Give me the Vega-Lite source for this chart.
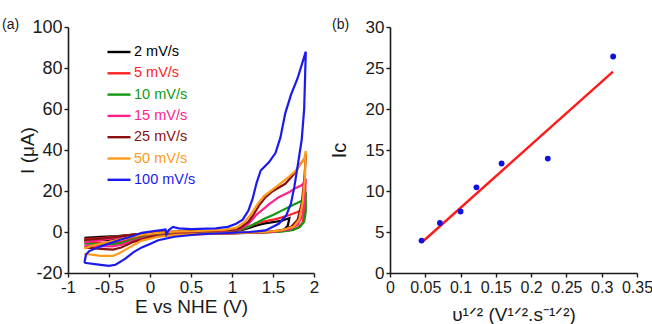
{
  "$schema": "https://vega.github.io/schema/vega-lite/v6.json",
  "background": "white",
  "padding": {"left": 1, "top": 18, "right": 0, "bottom": 0},
  "spacing": 10,
  "config": {
    "font": "Liberation Sans",
    "view": {"stroke": null},
    "axis": {
      "grid": false,
      "domainColor": "#1a1a1a",
      "domainWidth": 1.6,
      "tickColor": "#1a1a1a",
      "tickWidth": 1.4,
      "tickSize": 4,
      "labelFont": "Liberation Sans",
      "labelFontSize": 18,
      "labelColor": "#1a1a1a",
      "labelPadding": 2,
      "labelOverlap": false,
      "labelFlush": false,
      "titleFont": "Liberation Sans",
      "titleFontSize": 19,
      "titleFontWeight": "normal",
      "titleColor": "#1a1a1a"
    },
    "title": {"font": "Liberation Sans", "fontSize": 14, "fontWeight": "normal", "color": "#1a1a1a"}
  },
  "datasets": {
    "cv": [
      {"rate": "2 mV/s", "i": 0, "E": -0.8, "I": -2.8}, {"rate": "2 mV/s", "i": 1, "E": -0.6, "I": -2.4}, {"rate": "2 mV/s", "i": 2, "E": -0.4, "I": -2.0}, {"rate": "2 mV/s", "i": 3, "E": -0.2, "I": -1.3}, {"rate": "2 mV/s", "i": 4, "E": 0.0, "I": -0.6}, {"rate": "2 mV/s", "i": 5, "E": 0.2, "I": -0.2}, {"rate": "2 mV/s", "i": 6, "E": 0.5, "I": 0.0}, {"rate": "2 mV/s", "i": 7, "E": 0.8, "I": 0.2}, {"rate": "2 mV/s", "i": 8, "E": 1.0, "I": 0.4}, {"rate": "2 mV/s", "i": 9, "E": 1.1, "I": 0.8}, {"rate": "2 mV/s", "i": 10, "E": 1.2, "I": 1.8}, {"rate": "2 mV/s", "i": 11, "E": 1.3, "I": 3.2}, {"rate": "2 mV/s", "i": 12, "E": 1.4, "I": 4.2}, {"rate": "2 mV/s", "i": 13, "E": 1.5, "I": 4.8}, {"rate": "2 mV/s", "i": 14, "E": 1.6, "I": 5.4}, {"rate": "2 mV/s", "i": 15, "E": 1.7, "I": 6.8}, {"rate": "2 mV/s", "i": 16, "E": 1.68, "I": 3.0}, {"rate": "2 mV/s", "i": 17, "E": 1.63, "I": 1.0}, {"rate": "2 mV/s", "i": 18, "E": 1.55, "I": 0.3}, {"rate": "2 mV/s", "i": 19, "E": 1.3, "I": -0.3}, {"rate": "2 mV/s", "i": 20, "E": 1.0, "I": -0.6}, {"rate": "2 mV/s", "i": 21, "E": 0.6, "I": -0.9}, {"rate": "2 mV/s", "i": 22, "E": 0.3, "I": -1.1}, {"rate": "2 mV/s", "i": 23, "E": 0.0, "I": -1.6}, {"rate": "2 mV/s", "i": 24, "E": -0.2, "I": -2.4}, {"rate": "2 mV/s", "i": 25, "E": -0.4, "I": -3.4}, {"rate": "2 mV/s", "i": 26, "E": -0.5, "I": -3.8}, {"rate": "2 mV/s", "i": 27, "E": -0.65, "I": -3.9}, {"rate": "2 mV/s", "i": 28, "E": -0.8, "I": -4.0},

      {"rate": "5 mV/s", "i": 0, "E": -0.8, "I": -3.5}, {"rate": "5 mV/s", "i": 1, "E": -0.6, "I": -3.0}, {"rate": "5 mV/s", "i": 2, "E": -0.4, "I": -2.3}, {"rate": "5 mV/s", "i": 3, "E": -0.2, "I": -1.3}, {"rate": "5 mV/s", "i": 4, "E": 0.0, "I": -0.5}, {"rate": "5 mV/s", "i": 5, "E": 0.2, "I": -0.1}, {"rate": "5 mV/s", "i": 6, "E": 0.5, "I": 0.1}, {"rate": "5 mV/s", "i": 7, "E": 0.8, "I": 0.3}, {"rate": "5 mV/s", "i": 8, "E": 1.0, "I": 0.6}, {"rate": "5 mV/s", "i": 9, "E": 1.1, "I": 1.0}, {"rate": "5 mV/s", "i": 10, "E": 1.2, "I": 2.4}, {"rate": "5 mV/s", "i": 11, "E": 1.3, "I": 4.2}, {"rate": "5 mV/s", "i": 12, "E": 1.4, "I": 5.2}, {"rate": "5 mV/s", "i": 13, "E": 1.5, "I": 6.0}, {"rate": "5 mV/s", "i": 14, "E": 1.6, "I": 7.0}, {"rate": "5 mV/s", "i": 15, "E": 1.7, "I": 8.3}, {"rate": "5 mV/s", "i": 16, "E": 1.8, "I": 9.8}, {"rate": "5 mV/s", "i": 17, "E": 1.86, "I": 11.0}, {"rate": "5 mV/s", "i": 18, "E": 1.89, "I": 15.0}, {"rate": "5 mV/s", "i": 19, "E": 1.9, "I": 19.0}, {"rate": "5 mV/s", "i": 20, "E": 1.89, "I": 10.0}, {"rate": "5 mV/s", "i": 21, "E": 1.86, "I": 4.5}, {"rate": "5 mV/s", "i": 22, "E": 1.8, "I": 2.0}, {"rate": "5 mV/s", "i": 23, "E": 1.7, "I": 0.8}, {"rate": "5 mV/s", "i": 24, "E": 1.5, "I": 0.0}, {"rate": "5 mV/s", "i": 25, "E": 1.2, "I": -0.4}, {"rate": "5 mV/s", "i": 26, "E": 1.0, "I": -0.6}, {"rate": "5 mV/s", "i": 27, "E": 0.6, "I": -0.9}, {"rate": "5 mV/s", "i": 28, "E": 0.3, "I": -1.2}, {"rate": "5 mV/s", "i": 29, "E": 0.0, "I": -1.9}, {"rate": "5 mV/s", "i": 30, "E": -0.2, "I": -3.2}, {"rate": "5 mV/s", "i": 31, "E": -0.35, "I": -4.8}, {"rate": "5 mV/s", "i": 32, "E": -0.45, "I": -5.3}, {"rate": "5 mV/s", "i": 33, "E": -0.6, "I": -5.2}, {"rate": "5 mV/s", "i": 34, "E": -0.8, "I": -5.0},

      {"rate": "10 mV/s", "i": 0, "E": -0.8, "I": -4.5}, {"rate": "10 mV/s", "i": 1, "E": -0.6, "I": -3.6}, {"rate": "10 mV/s", "i": 2, "E": -0.4, "I": -2.6}, {"rate": "10 mV/s", "i": 3, "E": -0.2, "I": -1.4}, {"rate": "10 mV/s", "i": 4, "E": 0.0, "I": -0.5}, {"rate": "10 mV/s", "i": 5, "E": 0.2, "I": 0.0}, {"rate": "10 mV/s", "i": 6, "E": 0.5, "I": 0.2}, {"rate": "10 mV/s", "i": 7, "E": 0.8, "I": 0.4}, {"rate": "10 mV/s", "i": 8, "E": 1.0, "I": 0.7}, {"rate": "10 mV/s", "i": 9, "E": 1.1, "I": 1.2}, {"rate": "10 mV/s", "i": 10, "E": 1.2, "I": 2.5}, {"rate": "10 mV/s", "i": 11, "E": 1.3, "I": 4.5}, {"rate": "10 mV/s", "i": 12, "E": 1.4, "I": 6.6}, {"rate": "10 mV/s", "i": 13, "E": 1.5, "I": 8.3}, {"rate": "10 mV/s", "i": 14, "E": 1.6, "I": 10.3}, {"rate": "10 mV/s", "i": 15, "E": 1.7, "I": 12.3}, {"rate": "10 mV/s", "i": 16, "E": 1.8, "I": 14.3}, {"rate": "10 mV/s", "i": 17, "E": 1.86, "I": 15.3}, {"rate": "10 mV/s", "i": 18, "E": 1.9, "I": 18.0}, {"rate": "10 mV/s", "i": 19, "E": 1.9, "I": 10.0}, {"rate": "10 mV/s", "i": 20, "E": 1.88, "I": 5.0}, {"rate": "10 mV/s", "i": 21, "E": 1.83, "I": 2.5}, {"rate": "10 mV/s", "i": 22, "E": 1.75, "I": 1.0}, {"rate": "10 mV/s", "i": 23, "E": 1.6, "I": 0.2}, {"rate": "10 mV/s", "i": 24, "E": 1.4, "I": -0.2}, {"rate": "10 mV/s", "i": 25, "E": 1.0, "I": -0.6}, {"rate": "10 mV/s", "i": 26, "E": 0.6, "I": -0.9}, {"rate": "10 mV/s", "i": 27, "E": 0.3, "I": -1.2}, {"rate": "10 mV/s", "i": 28, "E": 0.0, "I": -2.0}, {"rate": "10 mV/s", "i": 29, "E": -0.2, "I": -3.6}, {"rate": "10 mV/s", "i": 30, "E": -0.35, "I": -5.4}, {"rate": "10 mV/s", "i": 31, "E": -0.45, "I": -6.0}, {"rate": "10 mV/s", "i": 32, "E": -0.6, "I": -5.9}, {"rate": "10 mV/s", "i": 33, "E": -0.8, "I": -5.6},

      {"rate": "15 mV/s", "i": 0, "E": -0.8, "I": -5.0}, {"rate": "15 mV/s", "i": 1, "E": -0.6, "I": -4.0}, {"rate": "15 mV/s", "i": 2, "E": -0.4, "I": -2.8}, {"rate": "15 mV/s", "i": 3, "E": -0.2, "I": -1.5}, {"rate": "15 mV/s", "i": 4, "E": 0.0, "I": -0.5}, {"rate": "15 mV/s", "i": 5, "E": 0.2, "I": 0.0}, {"rate": "15 mV/s", "i": 6, "E": 0.5, "I": 0.2}, {"rate": "15 mV/s", "i": 7, "E": 0.8, "I": 0.5}, {"rate": "15 mV/s", "i": 8, "E": 1.0, "I": 0.8}, {"rate": "15 mV/s", "i": 9, "E": 1.1, "I": 1.5}, {"rate": "15 mV/s", "i": 10, "E": 1.2, "I": 4.0}, {"rate": "15 mV/s", "i": 11, "E": 1.3, "I": 8.5}, {"rate": "15 mV/s", "i": 12, "E": 1.37, "I": 10.8}, {"rate": "15 mV/s", "i": 13, "E": 1.45, "I": 13.5}, {"rate": "15 mV/s", "i": 14, "E": 1.57, "I": 17.0}, {"rate": "15 mV/s", "i": 15, "E": 1.7, "I": 19.5}, {"rate": "15 mV/s", "i": 16, "E": 1.78, "I": 21.5}, {"rate": "15 mV/s", "i": 17, "E": 1.86, "I": 23.0}, {"rate": "15 mV/s", "i": 18, "E": 1.9, "I": 26.0}, {"rate": "15 mV/s", "i": 19, "E": 1.89, "I": 16.0}, {"rate": "15 mV/s", "i": 20, "E": 1.86, "I": 8.0}, {"rate": "15 mV/s", "i": 21, "E": 1.8, "I": 3.5}, {"rate": "15 mV/s", "i": 22, "E": 1.7, "I": 1.2}, {"rate": "15 mV/s", "i": 23, "E": 1.5, "I": 0.1}, {"rate": "15 mV/s", "i": 24, "E": 1.2, "I": -0.4}, {"rate": "15 mV/s", "i": 25, "E": 1.0, "I": -0.6}, {"rate": "15 mV/s", "i": 26, "E": 0.6, "I": -1.0}, {"rate": "15 mV/s", "i": 27, "E": 0.3, "I": -1.3}, {"rate": "15 mV/s", "i": 28, "E": 0.0, "I": -2.2}, {"rate": "15 mV/s", "i": 29, "E": -0.2, "I": -4.2}, {"rate": "15 mV/s", "i": 30, "E": -0.35, "I": -6.2}, {"rate": "15 mV/s", "i": 31, "E": -0.45, "I": -7.0}, {"rate": "15 mV/s", "i": 32, "E": -0.6, "I": -6.9}, {"rate": "15 mV/s", "i": 33, "E": -0.8, "I": -6.5},

      {"rate": "25 mV/s", "i": 0, "E": -0.8, "I": -3.8}, {"rate": "25 mV/s", "i": 1, "E": -0.6, "I": -3.2}, {"rate": "25 mV/s", "i": 2, "E": -0.4, "I": -2.4}, {"rate": "25 mV/s", "i": 3, "E": -0.2, "I": -1.3}, {"rate": "25 mV/s", "i": 4, "E": 0.0, "I": -0.4}, {"rate": "25 mV/s", "i": 5, "E": 0.2, "I": 0.1}, {"rate": "25 mV/s", "i": 6, "E": 0.5, "I": 0.3}, {"rate": "25 mV/s", "i": 7, "E": 0.8, "I": 0.6}, {"rate": "25 mV/s", "i": 8, "E": 1.0, "I": 1.0}, {"rate": "25 mV/s", "i": 9, "E": 1.1, "I": 2.0}, {"rate": "25 mV/s", "i": 10, "E": 1.2, "I": 5.0}, {"rate": "25 mV/s", "i": 11, "E": 1.27, "I": 9.0}, {"rate": "25 mV/s", "i": 12, "E": 1.33, "I": 13.0}, {"rate": "25 mV/s", "i": 13, "E": 1.41, "I": 17.0}, {"rate": "25 mV/s", "i": 14, "E": 1.5, "I": 20.0}, {"rate": "25 mV/s", "i": 15, "E": 1.65, "I": 23.5}, {"rate": "25 mV/s", "i": 16, "E": 1.75, "I": 28.0}, {"rate": "25 mV/s", "i": 17, "E": 1.83, "I": 33.0}, {"rate": "25 mV/s", "i": 18, "E": 1.9, "I": 36.5}, {"rate": "25 mV/s", "i": 19, "E": 1.88, "I": 25.0}, {"rate": "25 mV/s", "i": 20, "E": 1.85, "I": 14.0}, {"rate": "25 mV/s", "i": 21, "E": 1.8, "I": 6.0}, {"rate": "25 mV/s", "i": 22, "E": 1.72, "I": 2.5}, {"rate": "25 mV/s", "i": 23, "E": 1.6, "I": 0.8}, {"rate": "25 mV/s", "i": 24, "E": 1.4, "I": 0.0}, {"rate": "25 mV/s", "i": 25, "E": 1.0, "I": -0.6}, {"rate": "25 mV/s", "i": 26, "E": 0.6, "I": -1.0}, {"rate": "25 mV/s", "i": 27, "E": 0.3, "I": -1.4}, {"rate": "25 mV/s", "i": 28, "E": 0.0, "I": -2.4}, {"rate": "25 mV/s", "i": 29, "E": -0.2, "I": -4.8}, {"rate": "25 mV/s", "i": 30, "E": -0.35, "I": -7.6}, {"rate": "25 mV/s", "i": 31, "E": -0.45, "I": -8.6}, {"rate": "25 mV/s", "i": 32, "E": -0.6, "I": -8.2}, {"rate": "25 mV/s", "i": 33, "E": -0.8, "I": -7.5},

      {"rate": "50 mV/s", "i": 0, "E": -0.8, "I": -8.0}, {"rate": "50 mV/s", "i": 1, "E": -0.7, "I": -6.6}, {"rate": "50 mV/s", "i": 2, "E": -0.5, "I": -4.8}, {"rate": "50 mV/s", "i": 3, "E": -0.3, "I": -3.0}, {"rate": "50 mV/s", "i": 4, "E": -0.1, "I": -1.4}, {"rate": "50 mV/s", "i": 5, "E": 0.1, "I": -0.4}, {"rate": "50 mV/s", "i": 6, "E": 0.3, "I": 0.2}, {"rate": "50 mV/s", "i": 7, "E": 0.6, "I": 0.5}, {"rate": "50 mV/s", "i": 8, "E": 0.9, "I": 1.0}, {"rate": "50 mV/s", "i": 9, "E": 1.05, "I": 2.0}, {"rate": "50 mV/s", "i": 10, "E": 1.15, "I": 4.8}, {"rate": "50 mV/s", "i": 11, "E": 1.23, "I": 8.5}, {"rate": "50 mV/s", "i": 12, "E": 1.31, "I": 13.5}, {"rate": "50 mV/s", "i": 13, "E": 1.39, "I": 17.5}, {"rate": "50 mV/s", "i": 14, "E": 1.49, "I": 20.5}, {"rate": "50 mV/s", "i": 15, "E": 1.65, "I": 25.5}, {"rate": "50 mV/s", "i": 16, "E": 1.78, "I": 30.0}, {"rate": "50 mV/s", "i": 17, "E": 1.88, "I": 35.5}, {"rate": "50 mV/s", "i": 18, "E": 1.9, "I": 39.5}, {"rate": "50 mV/s", "i": 19, "E": 1.89, "I": 27.0}, {"rate": "50 mV/s", "i": 20, "E": 1.86, "I": 14.0}, {"rate": "50 mV/s", "i": 21, "E": 1.82, "I": 6.0}, {"rate": "50 mV/s", "i": 22, "E": 1.75, "I": 2.5}, {"rate": "50 mV/s", "i": 23, "E": 1.6, "I": 0.8}, {"rate": "50 mV/s", "i": 24, "E": 1.4, "I": 0.0}, {"rate": "50 mV/s", "i": 25, "E": 1.0, "I": -0.6}, {"rate": "50 mV/s", "i": 26, "E": 0.6, "I": -1.0}, {"rate": "50 mV/s", "i": 27, "E": 0.3, "I": -1.5}, {"rate": "50 mV/s", "i": 28, "E": 0.1, "I": -2.3}, {"rate": "50 mV/s", "i": 29, "E": -0.1, "I": -4.2}, {"rate": "50 mV/s", "i": 30, "E": -0.25, "I": -7.5}, {"rate": "50 mV/s", "i": 31, "E": -0.38, "I": -10.5}, {"rate": "50 mV/s", "i": 32, "E": -0.45, "I": -11.6}, {"rate": "50 mV/s", "i": 33, "E": -0.6, "I": -11.6}, {"rate": "50 mV/s", "i": 34, "E": -0.8, "I": -10.6},

      {"rate": "100 mV/s", "i": 0, "E": -0.8, "I": -15.0}, {"rate": "100 mV/s", "i": 1, "E": -0.78, "I": -11.0}, {"rate": "100 mV/s", "i": 2, "E": -0.74, "I": -9.3}, {"rate": "100 mV/s", "i": 3, "E": -0.6, "I": -7.0}, {"rate": "100 mV/s", "i": 4, "E": -0.4, "I": -4.3}, {"rate": "100 mV/s", "i": 5, "E": -0.2, "I": -1.8}, {"rate": "100 mV/s", "i": 6, "E": -0.1, "I": -0.4}, {"rate": "100 mV/s", "i": 7, "E": 0.05, "I": 0.5}, {"rate": "100 mV/s", "i": 8, "E": 0.19, "I": 1.2}, {"rate": "100 mV/s", "i": 9, "E": 0.2, "I": -1.2}, {"rate": "100 mV/s", "i": 10, "E": 0.23, "I": 1.0}, {"rate": "100 mV/s", "i": 11, "E": 0.28, "I": 2.5}, {"rate": "100 mV/s", "i": 12, "E": 0.35, "I": 1.8}, {"rate": "100 mV/s", "i": 13, "E": 0.5, "I": 1.4}, {"rate": "100 mV/s", "i": 14, "E": 0.8, "I": 1.8}, {"rate": "100 mV/s", "i": 15, "E": 0.95, "I": 2.5}, {"rate": "100 mV/s", "i": 16, "E": 1.05, "I": 4.0}, {"rate": "100 mV/s", "i": 17, "E": 1.13, "I": 6.0}, {"rate": "100 mV/s", "i": 18, "E": 1.2, "I": 10.5}, {"rate": "100 mV/s", "i": 19, "E": 1.25, "I": 16.0}, {"rate": "100 mV/s", "i": 20, "E": 1.3, "I": 24.0}, {"rate": "100 mV/s", "i": 21, "E": 1.35, "I": 30.0}, {"rate": "100 mV/s", "i": 22, "E": 1.45, "I": 34.0}, {"rate": "100 mV/s", "i": 23, "E": 1.53, "I": 38.5}, {"rate": "100 mV/s", "i": 24, "E": 1.59, "I": 46.0}, {"rate": "100 mV/s", "i": 25, "E": 1.65, "I": 58.0}, {"rate": "100 mV/s", "i": 26, "E": 1.72, "I": 67.0}, {"rate": "100 mV/s", "i": 27, "E": 1.8, "I": 75.0}, {"rate": "100 mV/s", "i": 28, "E": 1.9, "I": 88.0}, {"rate": "100 mV/s", "i": 29, "E": 1.88, "I": 60.0}, {"rate": "100 mV/s", "i": 30, "E": 1.85, "I": 45.0}, {"rate": "100 mV/s", "i": 31, "E": 1.8, "I": 32.0}, {"rate": "100 mV/s", "i": 32, "E": 1.76, "I": 22.0}, {"rate": "100 mV/s", "i": 33, "E": 1.72, "I": 14.0}, {"rate": "100 mV/s", "i": 34, "E": 1.66, "I": 8.0}, {"rate": "100 mV/s", "i": 35, "E": 1.57, "I": 4.0}, {"rate": "100 mV/s", "i": 36, "E": 1.41, "I": 0.8}, {"rate": "100 mV/s", "i": 37, "E": 1.21, "I": 0.0}, {"rate": "100 mV/s", "i": 38, "E": 0.9, "I": -0.6}, {"rate": "100 mV/s", "i": 39, "E": 0.6, "I": -1.1}, {"rate": "100 mV/s", "i": 40, "E": 0.3, "I": -2.3}, {"rate": "100 mV/s", "i": 41, "E": 0.1, "I": -4.0}, {"rate": "100 mV/s", "i": 42, "E": 0.0, "I": -5.8}, {"rate": "100 mV/s", "i": 43, "E": -0.1, "I": -7.5}, {"rate": "100 mV/s", "i": 44, "E": -0.2, "I": -9.8}, {"rate": "100 mV/s", "i": 45, "E": -0.3, "I": -13.0}, {"rate": "100 mV/s", "i": 46, "E": -0.42, "I": -16.0}, {"rate": "100 mV/s", "i": 47, "E": -0.5, "I": -16.5}, {"rate": "100 mV/s", "i": 48, "E": -0.65, "I": -15.8}, {"rate": "100 mV/s", "i": 49, "E": -0.8, "I": -15.0}
    ],
    "pts": [
      {"v": 0.0447, "Ic": 3.95, "kind": "point"},
      {"v": 0.0707, "Ic": 6.1, "kind": "point"},
      {"v": 0.1, "Ic": 7.5, "kind": "point"},
      {"v": 0.1225, "Ic": 10.45, "kind": "point"},
      {"v": 0.1581, "Ic": 13.35, "kind": "point"},
      {"v": 0.2236, "Ic": 13.95, "kind": "point"},
      {"v": 0.3162, "Ic": 26.4, "kind": "point"},
      {"v": 0.0473, "Ic": 3.9, "kind": "fit"},
      {"v": 0.316, "Ic": 24.55, "kind": "fit"}
    ]
  },
  "hconcat": [
    {
      "width": 246,
      "height": 246,
      "title": {"text": "(a)", "anchor": "start", "frame": "bounds", "dx": -17, "dy": 14, "offset": 0},
      "data": {"name": "cv"},
      "mark": {"type": "line", "strokeWidth": 2.2, "interpolate": "linear"},
      "encoding": {
        "x": {
          "field": "E", "type": "quantitative",
          "scale": {"domain": [-1, 2], "nice": false, "zero": false},
          "axis": {"title": "E vs NHE (V)", "values": [-1, -0.5, 0, 0.5, 1, 1.5, 2], "labelExpr": "'' + datum.value", "labelFontSize": 17, "titlePadding": 2}
        },
        "y": {
          "field": "I", "type": "quantitative",
          "scale": {"domain": [-20, 100], "nice": false, "zero": false},
          "axis": {"title": "I (μA)", "values": [-20, 0, 20, 40, 60, 80, 100], "labelExpr": "'' + datum.value", "titlePadding": -6}
        },
        "color": {
          "field": "rate", "type": "nominal",
          "sort": ["2 mV/s", "5 mV/s", "10 mV/s", "15 mV/s", "25 mV/s", "50 mV/s", "100 mV/s"],
          "scale": {
            "domain": ["2 mV/s", "5 mV/s", "10 mV/s", "15 mV/s", "25 mV/s", "50 mV/s", "100 mV/s"],
            "range": ["#000000", "#ff2222", "#119911", "#ff2288", "#8b1010", "#ff9a1a", "#1a1aee"]
          },
          "legend": {
            "title": null,
            "orient": "none",
            "legendX": 38,
            "legendY": 12,
            "padding": 0,
            "symbolType": "stroke",
            "symbolSize": 529,
            "symbolStrokeWidth": 2.4,
            "labelFontSize": 14.5,
            "labelFont": "Liberation Sans",
            "labelOffset": 2,
            "rowPadding": 1.3,
            "encode": {"labels": {"update": {"fill": {"scale": "color", "field": "value"}}}}
          }
        },
        "detail": {"field": "rate"},
        "order": {"field": "i", "type": "quantitative"}
      }
    },
    {
      "width": 247,
      "height": 246,
      "title": {"text": "(b)", "anchor": "start", "frame": "bounds", "dx": 3, "dy": 14, "offset": 0},
      "data": {"name": "pts"},
      "encoding": {
        "x": {
          "field": "v", "type": "quantitative",
          "scale": {"domain": [0, 0.35], "nice": false},
          "axis": {"title": "υ¹ᐟ² (V¹ᐟ².s⁻¹ᐟ²)", "values": [0, 0.05, 0.1, 0.15, 0.2, 0.25, 0.3, 0.35], "labelExpr": "'' + datum.value", "labelFontSize": 16, "titlePadding": 10}
        },
        "y": {
          "field": "Ic", "type": "quantitative",
          "scale": {"domain": [0, 30], "nice": false},
          "axis": {"title": "Ic", "values": [0, 5, 10, 15, 20, 25, 30], "labelFontSize": 17, "titleFontSize": 20, "titlePadding": 16}
        }
      },
      "layer": [
        {
          "transform": [{"filter": "datum.kind === 'fit'"}],
          "mark": {"type": "line", "color": "#ff1a1a", "strokeWidth": 2.4}
        },
        {
          "transform": [{"filter": "datum.kind === 'point'"}],
          "mark": {"type": "circle", "color": "#1010e0", "size": 34, "opacity": 1}
        }
      ]
    }
  ]
}
